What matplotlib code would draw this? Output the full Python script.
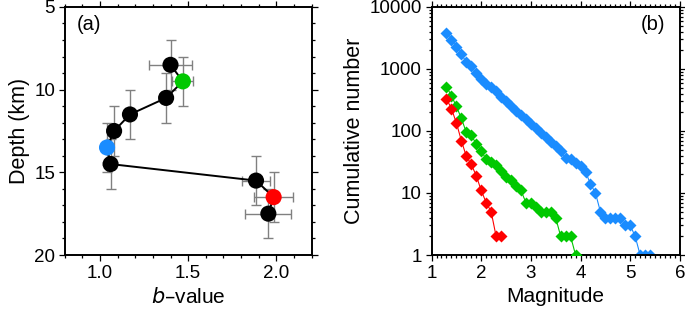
import matplotlib
matplotlib.use("Agg")
import matplotlib.pyplot as plt
from matplotlib.ticker import MultipleLocator, LogLocator, NullFormatter

plt.rcParams['font.family'] = ['Liberation Sans', 'DejaVu Sans']
plt.rcParams['font.size'] = 13.5

# panel (a): b-value vs depth
depth = [8.5, 9.5, 10.5, 11.5, 12.5, 13.5, 14.5, 15.5, 16.5, 17.5]
bval = [1.40, 1.47, 1.375, 1.17, 1.08, 1.04, 1.06, 1.885, 1.985, 1.955]
b_err = [0.12, 0.06, 0.02, 0.02, 0.02, 0.02, 0.02, 0.08, 0.11, 0.13]
depth_err = [1.5] * 10
point_colors = ['black', '#00c800', 'black', 'black', 'black',
                '#1a8cff', 'black', 'black', '#ff0000', 'black']

# panel (b): cumulative frequency-magnitude
mag = [1.3, 1.4, 1.5, 1.6, 1.7, 1.8, 1.9, 2.0, 2.1, 2.2, 2.3, 2.4,
       2.5, 2.6, 2.7, 2.8, 2.9, 3.0, 3.1, 3.2, 3.3, 3.4, 3.5, 3.6,
       3.7, 3.8, 3.9, 4.0, 4.1, 4.2, 4.3, 4.4, 4.5, 4.6, 4.7, 4.8,
       4.9, 5.0, 5.1, 5.2, 5.3, 5.4]
n_blue = [3800, 2950, 2300, 1750, 1280, 1100, 850, 680, 580, 510, 440, 350,
          300, 255, 212, 180, 155, 130, 110, 94, 79, 67, 57, 47,
          37, 35, 31, 27, 22, 14, 10, 5, 4, 4, 4, 4,
          3, 3, 2, 1, 1, 1]
n_green = [520, 370, 250, 160, 95, 85, 62, 48, 35, 32, 28, 23,
           18, 16, 13, 11, 7, 7, 6, 5, 5, 5, 4, 2,
           2, 2, 1]
n_red = [330, 230, 135, 70, 39, 29, 19, 11, 7, 5, 2, 2]

fig = plt.figure(figsize=(6.85, 3.16), dpi=100)
ax1 = fig.add_axes([0.0945, 0.193, 0.3603, 0.785])
ax2 = fig.add_axes([0.630, 0.193, 0.3625, 0.785])

for ax in (ax1, ax2):
    for s in ax.spines.values():
        s.set_linewidth(1.4)
    ax.tick_params(which='both', direction='out', top=True, right=True,
                   width=0.9, labelsize=13.5, pad=3)
    ax.tick_params(which='major', length=4)
    ax.tick_params(which='minor', length=2.2)

# (a)
ax1.errorbar(bval, depth, xerr=b_err, yerr=depth_err, fmt='none',
             ecolor='#808080', elinewidth=1.0, capsize=3.6, capthick=1.0, zorder=1)
ax1.plot(bval, depth, color='black', lw=1.4, zorder=2)
ax1.scatter(bval, depth, s=135, c=point_colors, zorder=3, linewidths=0)
ax1.set_xlim(0.8, 2.2)
ax1.set_ylim(20, 5)
ax1.xaxis.set_major_locator(MultipleLocator(0.5))
ax1.xaxis.set_minor_locator(MultipleLocator(0.1))
ax1.yaxis.set_major_locator(MultipleLocator(5))
ax1.yaxis.set_minor_locator(MultipleLocator(1))
ax1.set_xlabel('$\\it{b}$\u2013value', fontsize=15)
ax1.set_ylabel('Depth (km)', fontsize=15.5, labelpad=3)
ax1.text(0.10, 0.93, '(a)', transform=ax1.transAxes, ha='center', va='center', fontsize=14.5)

# (b)
ax2.plot(mag, n_blue, color='#1a8cff', lw=0.8, marker='D', ms=5.8, mec='none', zorder=2)
ax2.plot(mag[:len(n_green)], n_green, color='#00c800', lw=0.8, marker='D', ms=5.8, mec='none', zorder=3)
ax2.plot(mag[:len(n_red)], n_red, color='#ff0000', lw=0.8, marker='D', ms=5.8, mec='none', zorder=4)
ax2.set_yscale('log')
ax2.set_xlim(1, 6)
ax2.set_ylim(1, 10000)
ax2.xaxis.set_major_locator(MultipleLocator(1))
ax2.xaxis.set_minor_locator(MultipleLocator(0.1))
ax2.yaxis.set_minor_locator(LogLocator(base=10, subs=range(2, 10)))
ax2.yaxis.set_minor_formatter(NullFormatter())
ax2.set_yticks([1, 10, 100, 1000, 10000])
ax2.set_yticklabels(['1', '10', '100', '1000', '10000'])
ax2.set_xlabel('Magnitude', fontsize=15)
ax2.set_ylabel('Cumulative number', fontsize=15.5, labelpad=3)
ax2.text(0.89, 0.93, '(b)', transform=ax2.transAxes, ha='center', va='center', fontsize=14.5)

fig.savefig('out.png', dpi=100)
